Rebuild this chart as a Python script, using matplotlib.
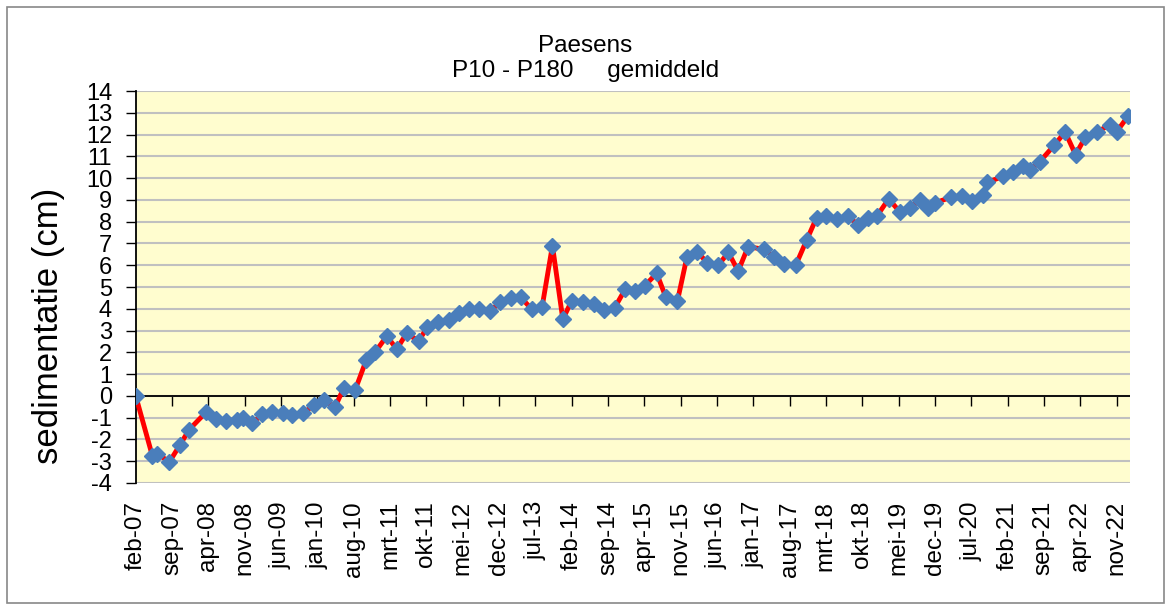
import matplotlib
matplotlib.use('Agg')
import matplotlib.pyplot as plt
from matplotlib.patches import Rectangle

plt.rcParams['font.family'] = ['Liberation Sans', 'DejaVu Sans']
plt.rcParams['axes.unicode_minus'] = False

# months since feb-07 and mean sedimentation (cm)
months = [0, 3.2, 4.1, 6.5, 8.5, 10.3, 13.5, 15.4, 17.4, 19.5, 20.6, 22.5, 24.4, 26.3,
          28.3, 30.2, 32.3, 34.4, 36.3, 38.4, 40.1, 42.3, 44.4, 46.1, 48.4, 50.3, 52.2,
          54.5, 56.2, 58.3, 60.4, 62.2, 64.2, 66.2, 68.3, 70.2, 72.3, 74.2, 76.3, 78.3,
          80.3, 82.3, 84.0, 86.2, 88.3, 90.3, 92.3, 94.3, 96.2, 98.1, 100.4, 102.1,
          104.4, 106.2, 108.2, 110.1, 112.3, 114.2, 116.1, 118.0, 121.1, 123.0, 125.0,
          127.2, 129.3, 131.2, 133.1, 135.2, 137.3, 139.2, 141.2, 142.9, 145.1, 147.3,
          149.2, 151.1, 152.7, 154.1, 157.2, 159.2, 161.1, 163.3, 164.1, 167.1, 169.1,
          171.0, 172.3, 174.2, 177.0, 179.1, 181.1, 183.0, 185.2, 187.7, 189.0, 191.2]
sedimentatie = [0.00, -2.75, -2.65, -3.03, -2.26, -1.55, -0.76, -1.04, -1.14, -1.09,
                -1.03, -1.24, -0.85, -0.75, -0.78, -0.90, -0.80, -0.40, -0.21, -0.52,
                0.37, 0.28, 1.63, 2.00, 2.75, 2.14, 2.88, 2.52, 3.15, 3.38, 3.49, 3.79,
                3.99, 3.99, 3.90, 4.30, 4.48, 4.53, 3.98, 4.07, 6.90, 3.52, 4.36, 4.30,
                4.21, 3.94, 4.05, 4.89, 4.83, 5.06, 5.63, 4.56, 4.37, 6.36, 6.62, 6.12,
                6.01, 6.59, 5.73, 6.85, 6.73, 6.39, 6.06, 6.01, 7.16, 8.18, 8.26, 8.10,
                8.26, 7.84, 8.15, 8.28, 9.05, 8.43, 8.65, 8.98, 8.65, 8.87, 9.13, 9.20,
                8.97, 9.22, 9.80, 10.08, 10.30, 10.55, 10.37, 10.75, 11.51, 12.12, 11.08,
                11.88, 12.11, 12.45, 12.12, 12.84]

tick_labels = ['feb-07', 'sep-07', 'apr-08', 'nov-08', 'jun-09', 'jan-10', 'aug-10',
               'mrt-11', 'okt-11', 'mei-12', 'dec-12', 'jul-13', 'feb-14', 'sep-14',
               'apr-15', 'nov-15', 'jun-16', 'jan-17', 'aug-17', 'mrt-18', 'okt-18',
               'mei-19', 'dec-19', 'jul-20', 'feb-21', 'sep-21', 'apr-22', 'nov-22']
tick_pos = [7 * i for i in range(len(tick_labels))]

fig = plt.figure(figsize=(11.71, 6.10), dpi=100)
fig.patches.append(Rectangle((0.006, 0.011), 0.988, 0.978, transform=fig.transFigure,
                             fill=False, edgecolor='#888888', linewidth=1.2))

ax = fig.add_axes([0.1159, 0.2082, 0.8491, 0.6426])
ax.set_facecolor('#FFFDCF')

ax.plot(months, sedimentatie, color='#FF0000', linewidth=3.5, zorder=3)
ax.plot(months, sedimentatie, linestyle='none', marker='D', markersize=8,
        color='#4A7EBB', markeredgecolor='#4A7EBB', zorder=4)

ax.set_xlim(0, 191.6)
ax.set_ylim(-4, 14)
ax.set_yticks(range(-4, 15))
ax.yaxis.grid(True, color='#C0C0C0', linewidth=1.5)
ax.set_axisbelow(True)
ax.axhline(0, color='black', linewidth=1.3, zorder=2)

for s in ['top', 'right', 'bottom']:
    ax.spines[s].set_visible(False)
ax.spines['left'].set_linewidth(1.3)

ax.tick_params(axis='y', direction='out', length=7, width=1, labelsize=17, pad=10)
ax.set_xticks(tick_pos)
ax.set_xticklabels(tick_labels, rotation=90)
ax.tick_params(axis='x', length=0, labelsize=17.5, pad=13)

# ticks on the zero line
sec = ax.secondary_xaxis(4 / 18)
sec.set_xticks(tick_pos)
sec.tick_params(axis='x', direction='out', length=7, width=1, labelbottom=False)
sec.spines['bottom'].set_visible(False)

ax.set_ylabel('sedimentatie (cm)', fontsize=25)
ax.yaxis.set_label_coords(-0.071, 0.40)

fig.text(0.5, 0.9148, 'Paesens', ha='center', va='baseline', fontsize=17.5)
fig.text(0.5, 0.8738, 'P10 - P180     gemiddeld', ha='center', va='baseline', fontsize=17.5)

fig.savefig('out.png', dpi=100)
